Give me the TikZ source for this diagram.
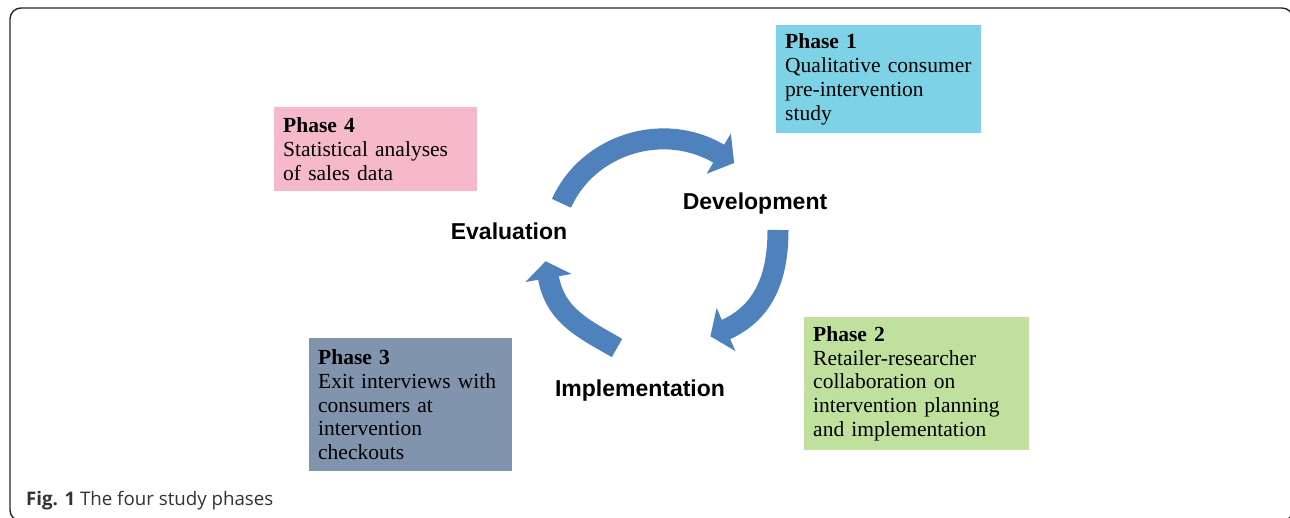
\documentclass[tikz,border=0pt]{standalone}
\usepackage{fontspec}
\setmainfont{Liberation Serif}
\setsansfont{Liberation Sans}
\newfontfamily\captionfont{Open Sans}
\usetikzlibrary{calc}

\definecolor{cycleblue}{RGB}{79,129,189}
\definecolor{phaseone}{RGB}{126,210,229}
\definecolor{phasetwo}{RGB}{192,225,157}
\definecolor{phasethree}{RGB}{129,148,173}
\definecolor{phasefour}{RGB}{246,184,203}

\tikzset{
  phasebox/.style={anchor=north west, align=left, inner xsep=9pt, inner ysep=0pt,
    font=\fontsize{21.5}{23.8}\selectfont},
  stage/.style={anchor=base, font=\fontsize{23}{27}\selectfont\sffamily\bfseries},
  cycleband/.style={draw=cycleblue, line width=21pt, shorten >=-1pt}
}

% flat arrow head: base centred on #1, point at #2
\newcommand{\cyclehead}[2]{%
  \fill[cycleblue] ($(#1)!23.5pt!90:(#2)$) -- (#2) -- ($(#1)!23.5pt!-90:(#2)$) -- cycle;}

\begin{document}
\begin{tikzpicture}[x=1pt,y=1pt]
  \useasboundingbox (0,0) rectangle (1290,517);

  % frame round the figure
  \draw[black!85, line width=1.4pt, rounded corners=11pt] (10,-4) rectangle (1293,509);

  % the four phases
  \begin{scope}[every node/.style=phasebox]
    \node[fill=phaseone, text width=187pt, minimum height=108pt] (p1) at (776,492)
      {\textbf{Phase 1}\\Qualitative consumer\\pre-intervention\\study};
    \node[fill=phasetwo, text width=207pt, minimum height=133pt] (p2) at (804,200)
      {\textbf{Phase 2}\\Retailer-researcher\\collaboration on\\intervention planning\\and implementation};
    \node[fill=phasethree, text width=185pt, minimum height=133pt] (p3) at (309,179)
      {\textbf{Phase 3}\\Exit interviews with\\consumers at\\intervention\\checkouts};
    \node[fill=phasefour, text width=185pt, minimum height=84pt] (p4) at (274,410)
      {\textbf{Phase 4}\\Statistical analyses\\of sales data};
  \end{scope}

  % stages of the cycle
  \begin{scope}[every node/.style=stage]
    \node (dev)  at (755,307.5) {Development};
    \node (impl) at (640,120.3) {Implementation};
    \node (eval) at (509,277.5) {Evaluation};
  \end{scope}

  % tails, head bases and points of the cycle arrows
  \coordinate (evaltail) at (561.5,313.7);
  \coordinate (devbase)  at (718.7,363.3);
  \coordinate (devtip)   at (734.1,354.0);
  \coordinate (devtail)  at (778,287);
  \coordinate (implbase) at (726,187.5);
  \coordinate (impltip)  at (710.4,180.7);
  \coordinate (impltail) at (617,169);
  \coordinate (evalbase) at (548.5,239);
  \coordinate (evaltip)  at (545.6,255.7);

  \path (evaltail) edge[cycleband, bend left=48.5] (devbase);
  \path (devtail)  edge[cycleband, out=-90, in=24] (implbase);
  \path (impltail) edge[cycleband, out=150, in=-80] (evalbase);

  \cyclehead{devbase}{devtip}
  \cyclehead{implbase}{impltip}
  \cyclehead{evalbase}{evaltip}

  % caption
  \node[anchor=base west, inner sep=0pt, text=black!80,
        font=\captionfont\fontsize{18.7}{22}\selectfont] (cap) at (26,12)
    {\textbf{Fig. 1} The four study phases};
\end{tikzpicture}
\end{document}
